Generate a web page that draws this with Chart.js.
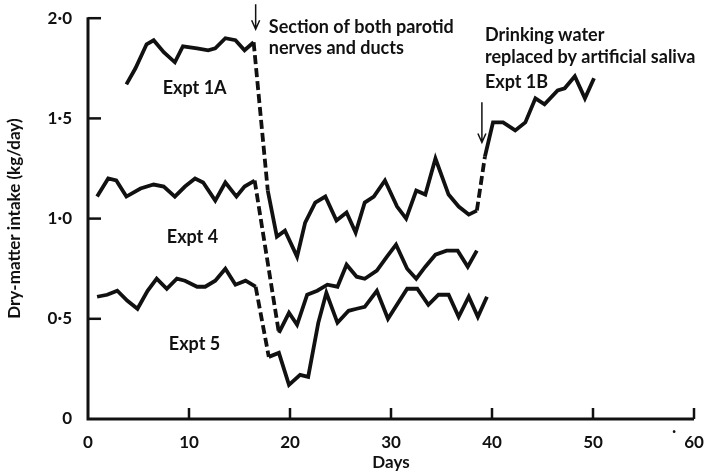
<!DOCTYPE html>
<html>
<head>
<meta charset="utf-8">
<script src="https://cdn.jsdelivr.net/npm/chart.js@4.4.0/dist/chart.umd.min.js"></script>
<style>
  body { margin: 0; background: #fff; }
</style>
</head>
<body>
<canvas id="chart" width="719" height="475"></canvas>
<script>
// days and dry-matter intake (kg/day)
let e1aDays = [3.8, 4.7, 5.8, 6.5, 7.5, 8.6, 9.4, 10.8, 11.9, 12.6, 13.6, 14.6, 15.5, 16.4];
let e1aVals = [1.67, 1.75, 1.87, 1.89, 1.83, 1.78, 1.86, 1.85, 1.84, 1.85, 1.90, 1.89, 1.84, 1.88];

let e1aPostDays = [17.8, 18.7, 19.5, 20.7, 21.5, 22.5, 23.5, 24.6, 25.6, 26.5, 27.4, 28.3, 29.4, 30.6, 31.5, 32.5, 33.4, 34.4, 35.7, 36.7, 37.7, 38.5];
let e1aPostVals = [1.14, 0.91, 0.94, 0.81, 0.98, 1.08, 1.11, 0.99, 1.03, 0.93, 1.08, 1.11, 1.19, 1.06, 1.00, 1.14, 1.12, 1.30, 1.12, 1.06, 1.02, 1.04];

let e1bDays = [39.3, 40.1, 41.1, 42.3, 43.3, 44.3, 45.2, 46.5, 47.2, 48.2, 49.2, 50.1];
let e1bVals = [1.31, 1.48, 1.48, 1.44, 1.48, 1.60, 1.57, 1.64, 1.65, 1.71, 1.60, 1.70];

let e4Days = [0.9, 2.0, 2.8, 3.8, 5.2, 6.5, 7.5, 8.6, 9.6, 10.6, 11.4, 12.6, 13.6, 14.7, 15.5, 16.5];
let e4Vals = [1.11, 1.20, 1.19, 1.11, 1.15, 1.17, 1.16, 1.11, 1.16, 1.20, 1.18, 1.09, 1.18, 1.11, 1.16, 1.19];

let e4PostDays = [18.9, 19.9, 20.7, 21.7, 22.7, 23.7, 24.7, 25.6, 26.6, 27.4, 28.6, 29.6, 30.5, 31.6, 32.5, 33.4, 34.4, 35.5, 36.6, 37.6, 38.5];
let e4PostVals = [0.43, 0.53, 0.47, 0.62, 0.64, 0.67, 0.66, 0.77, 0.71, 0.70, 0.74, 0.81, 0.87, 0.75, 0.70, 0.76, 0.82, 0.84, 0.84, 0.76, 0.84];

let e5Days = [0.9, 1.9, 2.9, 3.9, 4.9, 5.9, 6.8, 7.8, 8.8, 9.6, 10.8, 11.6, 12.6, 13.6, 14.6, 15.6, 16.6];
let e5Vals = [0.61, 0.62, 0.64, 0.59, 0.55, 0.64, 0.70, 0.65, 0.70, 0.69, 0.66, 0.66, 0.69, 0.75, 0.67, 0.69, 0.66];

let e5PostDays = [17.9, 18.9, 19.9, 21.0, 21.8, 22.8, 23.6, 24.7, 25.8, 26.6, 27.4, 28.6, 29.7, 31.6, 32.6, 33.7, 34.7, 35.7, 36.7, 37.7, 38.6, 39.5];
let e5PostVals = [0.31, 0.33, 0.17, 0.22, 0.21, 0.48, 0.63, 0.48, 0.54, 0.55, 0.56, 0.64, 0.50, 0.65, 0.65, 0.57, 0.62, 0.62, 0.51, 0.61, 0.51, 0.61];

let xTicks = [0, 10, 20, 30, 40, 50, 60];
let yTicks = [0, 0.5, 1.0, 1.5, 2.0];

// text on the plot: [text, day, value]
let notes = [
    ['Section of both parotid', 17.9, 1.925],
    ['nerves and ducts', 17.9, 1.82],
    ['Drinking water', 39.3, 1.886],
    ['replaced by artificial saliva', 39.3, 1.776],
    ['Expt 1B', 39.3, 1.65],
    ['Expt 1A', 7.4, 1.62],
    ['Expt 4', 7.8, 0.876],
    ['Expt 5', 8.0, 0.343]
];
// arrows: [day, from value, to value]
let arrows = [[16.6, 2.07, 1.945], [39.0, 1.58, 1.38]];

let font = 'Lato, "Open Sans", sans-serif';

function pts(days, vals) {
    return days.map((d, i) => ({ x: d, y: vals[i] }));
}
function joinPts(days1, vals1, days2, vals2) {
    let a = days1.length - 1;
    return [{ x: days1[a], y: vals1[a] }, { x: days2[0], y: vals2[0] }];
}

function solid(data) {
    return { data: data, borderColor: '#111', borderWidth: 3.8, pointRadius: 0, fill: false, tension: 0 };
}
function dashed(data) {
    return { data: data, borderColor: '#111', borderWidth: 3.8, borderDash: [9, 4], pointRadius: 0, fill: false, tension: 0 };
}

let datasets = [
    solid(pts(e1aDays, e1aVals)),
    dashed(joinPts(e1aDays, e1aVals, e1aPostDays, e1aPostVals)),
    solid(pts(e1aPostDays, e1aPostVals)),
    dashed(joinPts(e1aPostDays, e1aPostVals, e1bDays, e1bVals)),
    solid(pts(e1bDays, e1bVals)),
    solid(pts(e4Days, e4Vals)),
    dashed(joinPts(e4Days, e4Vals, e4PostDays, e4PostVals)),
    solid(pts(e4PostDays, e4PostVals)),
    solid(pts(e5Days, e5Vals)),
    dashed(joinPts(e5Days, e5Vals, e5PostDays, e5PostVals)),
    solid(pts(e5PostDays, e5PostVals))
];

// axis lines, inward ticks, arrows and labels
let drawExtras = {
    id: 'drawExtras',
    afterDatasetsDraw(chart) {
        let ctx = chart.ctx;
        let xs = chart.scales.x;
        let ys = chart.scales.y;
        let x0 = xs.getPixelForValue(0);
        let y0 = ys.getPixelForValue(0);
        ctx.save();
        ctx.strokeStyle = '#111';
        ctx.fillStyle = '#111';
        ctx.lineWidth = 3;
        ctx.beginPath();
        ctx.moveTo(x0, ys.getPixelForValue(2.0) - 1);
        ctx.lineTo(x0, y0);
        ctx.lineTo(xs.getPixelForValue(60), y0);
        ctx.stroke();

        ctx.lineWidth = 2.5;
        yTicks.forEach(v => {
            if (v === 0) return;
            let py = ys.getPixelForValue(v);
            ctx.beginPath();
            ctx.moveTo(x0, py);
            ctx.lineTo(x0 + 13, py);
            ctx.stroke();
        });
        xTicks.forEach(d => {
            if (d === 0) return;
            let px = xs.getPixelForValue(d);
            ctx.beginPath();
            ctx.moveTo(px, y0);
            ctx.lineTo(px, y0 - 11);
            ctx.stroke();
        });

        ctx.lineWidth = 1.5;
        arrows.forEach(a => {
            let px = xs.getPixelForValue(a[0]);
            let top = ys.getPixelForValue(a[1]);
            let bot = ys.getPixelForValue(a[2]);
            ctx.beginPath();
            ctx.moveTo(px, top);
            ctx.lineTo(px, bot);
            ctx.moveTo(px - 4, bot - 9);
            ctx.lineTo(px, bot);
            ctx.lineTo(px + 4, bot - 9);
            ctx.stroke();
        });

        ctx.font = 'bold 18px ' + font;
        ctx.textBaseline = 'alphabetic';
        ctx.textAlign = 'left';
        notes.forEach(n => {
            ctx.fillText(n[0], xs.getPixelForValue(n[1]), ys.getPixelForValue(n[2]));
        });
        ctx.fillText('.', xs.getPixelForValue(60) - 22, y0 + 14);
        ctx.restore();
    }
};

new Chart(document.getElementById('chart'), {
    type: 'line',
    data: { datasets: datasets },
    options: {
        responsive: false,
        animation: false,
        layout: { padding: { left: 0, top: 17, right: 25, bottom: 0 } },
        plugins: { legend: { display: false }, tooltip: { enabled: false } },
        scales: {
            x: {
                type: 'linear',
                min: 0,
                max: 60,
                afterBuildTicks: s => { s.ticks = xTicks.map(v => ({ value: v })); },
                afterFit: s => { s.height = 56; },
                grid: { display: false },
                border: { display: false },
                ticks: { color: '#111', padding: 5, maxRotation: 0, font: { family: font, size: 17, weight: 'bold' } },
                title: { display: true, text: 'Days', color: '#111', padding: { top: 0, bottom: 2 }, font: { family: font, size: 17, weight: 'bold' } }
            },
            y: {
                min: 0,
                max: 2.0,
                afterBuildTicks: s => { s.ticks = yTicks.map(v => ({ value: v })); },
                afterFit: s => { s.width = 88; },
                grid: { display: false },
                border: { display: false },
                ticks: {
                    color: '#111',
                    padding: 8,
                    font: { family: font, size: 17, weight: 'bold' },
                    callback: v => v === 0 ? '0' : v.toFixed(1).replace('.', '·')
                },
                title: { display: true, text: 'Dry-matter intake (kg/day)', color: '#111', padding: { top: 4, bottom: 0 }, font: { family: font, size: 17, weight: 'bold' } }
            }
        }
    },
    plugins: [drawExtras]
});
</script>
</body>
</html>
